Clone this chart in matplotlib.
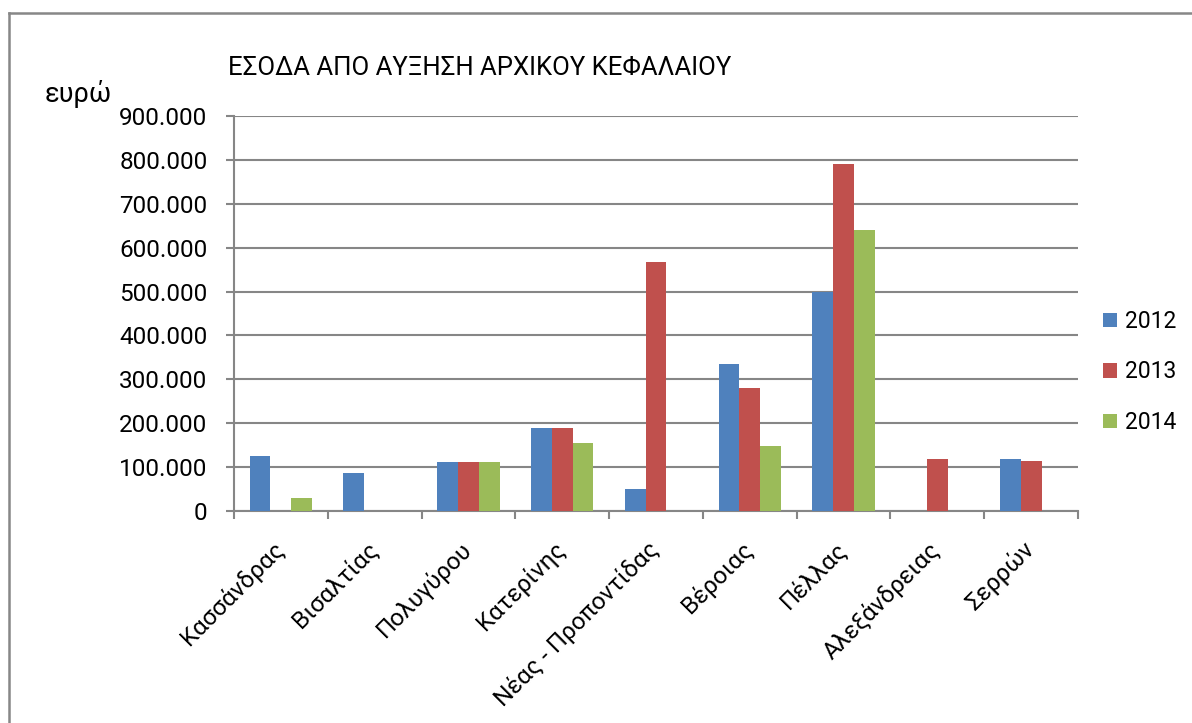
import matplotlib
matplotlib.use("Agg")
import matplotlib.pyplot as plt
import matplotlib.transforms as mtransforms
from matplotlib.ticker import FuncFormatter, MultipleLocator
import numpy as np

plt.rcParams['font.family'] = ['Roboto', 'DejaVu Sans']

categories = ["Κασσάνδρας", "Βισαλτίας", "Πολυγύρου", "Κατερίνης",
              "Νέας - Προποντίδας", "Βέροιας", "Πέλλας", "Αλεξάνδρειας", "Σερρών"]
series_names = ["2012", "2013", "2014"]
v2012 = [126000, 86000, 111000, 190000, 49000, 334000, 500000, 0, 118000]
v2013 = [0, 0, 111000, 190000, 568000, 280000, 790000, 118000, 115000]
v2014 = [29000, 0, 111000, 154000, 0, 149000, 640000, 0, 0]
colors = ["#4F81BD", "#C0504D", "#9BBB59"]

title = "ΕΣΟΔΑ ΑΠΟ ΑΥΞΗΣΗ ΑΡΧΙΚΟΥ ΚΕΦΑΛΑΙΟΥ"
ylabel = "ευρώ"

W, H = 1192, 723
fig = plt.figure(figsize=(W / 100, H / 100), dpi=100)

# outer chart border (top and left visible)
fig.add_artist(plt.Line2D([8.5 / W, 1.0], [1 - 12.5 / H, 1 - 12.5 / H], color="#878787", lw=1.8))
fig.add_artist(plt.Line2D([8.5 / W, 8.5 / W], [0, 1 - 12.5 / H], color="#878787", lw=1.8))

left, right, top, bottom = 234, 1078, 116, 511
ax = fig.add_axes([left / W, 1 - bottom / H, (right - left) / W, (bottom - top) / H])

n = len(categories)
x = np.arange(n)
bw = 1 / 4.5
for i, (vals, c, name) in enumerate(zip([v2012, v2013, v2014], colors, series_names)):
    ax.bar(x + (i - 1) * bw, vals, width=bw, color=c, label=name, zorder=3)

ax.set_xlim(-0.5, n - 0.5)
ax.set_ylim(0, 900000)
ax.yaxis.set_major_locator(MultipleLocator(100000))
ax.yaxis.set_major_formatter(FuncFormatter(lambda v, p: "0" if v == 0 else f"{int(v):,}".replace(",", ".")))
ax.grid(axis="y", color="#868686", lw=1.5, zorder=0)
for s in ["top", "right"]:
    ax.spines[s].set_visible(False)
for s in ["left", "bottom"]:
    ax.spines[s].set_color("#868686")
    ax.spines[s].set_linewidth(1.5)

ax.set_xticks(x)
ax.set_xticks(np.arange(-0.5, n, 1.0), minor=True)
ax.tick_params(axis="x", which="major", length=0, pad=19)
ax.tick_params(axis="x", which="minor", length=6, width=1.5, color="#868686", direction="out")
ax.tick_params(axis="y", length=6, width=1.5, color="#868686", direction="out", pad=13, labelsize=17.5)
ax.set_xticklabels(categories, rotation=45, ha="right", va="top", fontsize=17.5)
offset = mtransforms.ScaledTranslation(8 / 100, 0, fig.dpi_scale_trans)
for lbl in ax.get_xticklabels():
    lbl.set_transform(lbl.get_transform() + offset)

fig.text(228 / W, 1 - 68 / H, title, fontsize=18.5, ha="left", va="center")
fig.text(45 / W, 1 - 94 / H, ylabel, fontsize=19.5, ha="left", va="center")

leg = fig.legend(loc="center left", bbox_to_anchor=(1092 / W, 1 - 372 / H), frameon=False,
                 fontsize=16.5, handlelength=0.6, handleheight=0.6, handletextpad=0.35,
                 labelspacing=1.2, borderpad=0)

fig.savefig("out.png", dpi=100)
